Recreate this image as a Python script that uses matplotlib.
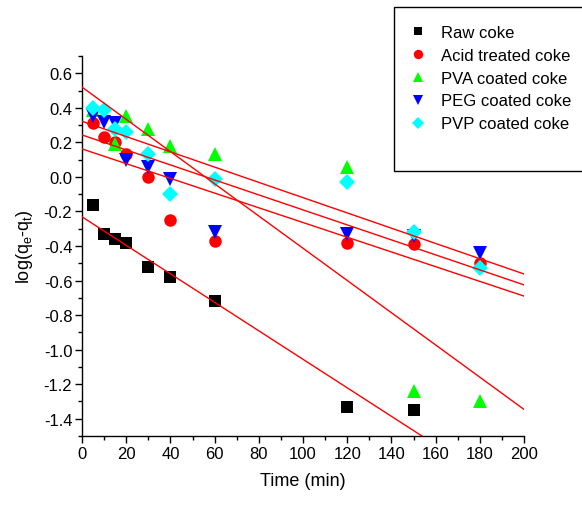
import matplotlib

matplotlib.use("Agg")
import matplotlib.pyplot as plt
import numpy as np
from matplotlib.patches import Rectangle
from matplotlib.ticker import MultipleLocator

# --------------------------------------------------------------------------- #
# Data
# --------------------------------------------------------------------------- #
time = [5, 10, 15, 20, 30, 40, 60, 120, 150, 180]

raw_time = [5, 10, 15, 20, 30, 40, 60, 120, 150]
raw_coke = [-0.16, -0.33, -0.36, -0.38, -0.52, -0.58, -0.72, -1.33, -1.35]
acid_coke = [0.31, 0.23, 0.20, 0.13, 0.00, -0.25, -0.37, -0.38, -0.39, -0.50]
pva_time = [5, 15, 20, 30, 40, 60, 120, 150, 180]
pva_coke = [0.39, 0.19, 0.35, 0.28, 0.18, 0.13, 0.06, -1.24, -1.30]
peg_coke = [0.35, 0.32, 0.31, 0.10, 0.06, -0.01, -0.32, -0.33, -0.34, -0.44]
pvp_coke = [0.40, 0.39, 0.28, 0.26, 0.13, -0.10, -0.01, -0.03, -0.32, -0.53]

# linear fits (intercept, slope) as drawn in the reference
fit_raw = (-0.231, -0.00825)
fit_acid = (0.162, -0.00426)
fit_pva = (0.520, -0.00933)
fit_peg = (0.243, -0.00434)
fit_pvp = (0.322, -0.00442)

labels = ["Raw coke", "Acid treated coke", "PVA coated coke",
          "PEG coated coke", "PVP coated coke"]

y_ticks = [-1.4, -1.2, -1.0, -0.8, -0.6, -0.4, -0.2, 0.0, 0.2, 0.4, 0.6]

# --------------------------------------------------------------------------- #
# Style
# --------------------------------------------------------------------------- #
plt.rcParams["font.family"] = ["Liberation Sans", "DejaVu Sans"]
plt.rcParams["axes.unicode_minus"] = False
plt.rcParams["mathtext.fontset"] = "custom"
plt.rcParams["mathtext.rm"] = "Liberation Sans"
plt.rcParams["mathtext.it"] = "Liberation Sans"

fig = plt.figure(figsize=(5.82, 5.06), dpi=100)
W, H = 582, 506
ax = fig.add_axes([82 / W, 1 - 437 / H, (524 - 82) / W, (437 - 57) / H])

series = [
    (raw_time, raw_coke, "s", "#000000", 8.5, fit_raw),
    (time, acid_coke, "o", "#ff0000", 9, fit_acid),
    (pva_time, pva_coke, "^", "#00ff00", 10, fit_pva),
    (time, peg_coke, "v", "#0000ff", 10, fit_peg),
    (time, pvp_coke, "D", "#00ffff", 8, fit_pvp),
]

xs = np.array([0, 200])
handles = []
for (x, y, m, c, ms, fit), lab in zip(series, labels):
    h, = ax.plot(x, y, linestyle="none", marker=m, color=c, markersize=ms,
                 markeredgewidth=0, label=lab, zorder=3)
    handles.append(h)

for (x, y, m, c, ms, fit) in series:
    ax.plot(xs, fit[0] + fit[1] * xs, color="#ff0000", lw=1.0, zorder=4)

ax.set_xlim(0, 200)
ax.set_ylim(-1.5, 0.7)
ax.xaxis.set_major_locator(MultipleLocator(20))
ax.xaxis.set_minor_locator(MultipleLocator(10))
ax.yaxis.set_minor_locator(MultipleLocator(0.1))
ax.set_yticks(y_ticks)
ax.set_yticklabels([f"{v:.1f}" for v in y_ticks])

for s in ["top", "right"]:
    ax.spines[s].set_visible(False)
for s in ["left", "bottom"]:
    ax.spines[s].set_linewidth(1.0)

ax.tick_params(which="major", direction="out", length=5, width=1,
               labelsize=12, pad=2)
ax.tick_params(which="minor", direction="out", length=3, width=1)

ax.set_xlabel("Time (min)", fontsize=13, labelpad=8)
ax.set_ylabel(r"log(q$_\mathregular{e}$-q$_\mathregular{t}$)", fontsize=13,
              labelpad=6)

# legend box (runs off the right edge in the reference)
fig.patches.append(Rectangle((394 / W, 1 - 172 / H), (600 - 394) / W,
                             (172 - 8) / H, transform=fig.transFigure,
                             facecolor="white", edgecolor="black", lw=1.0,
                             zorder=5))
leg = fig.legend(handles=handles, loc="upper left",
                 bbox_to_anchor=(410 / W, 1 - 26 / H),
                 frameon=False, fontsize=12, borderpad=0, borderaxespad=0,
                 handlelength=0.9, handletextpad=0.95, labelspacing=0.47,
                 markerscale=0.75)
leg.set_zorder(6)

fig.savefig("out.png", dpi=100)
